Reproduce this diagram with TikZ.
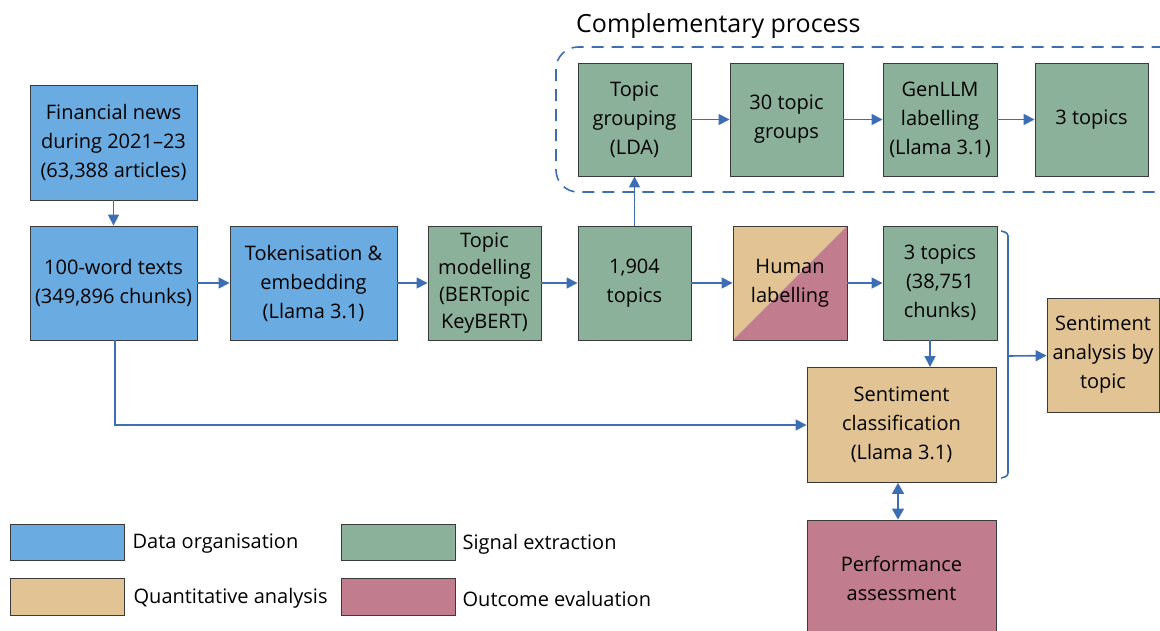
\documentclass[tikz,border=0pt]{standalone}
\usepackage{fontspec}
\setmainfont{Open Sans}
\usetikzlibrary{arrows.meta}

\definecolor{cblue}{HTML}{6AACE2}
\definecolor{cgreen}{HTML}{8BB19A}
\definecolor{ctan}{HTML}{E2C393}
\definecolor{cpink}{HTML}{C17D8E}
\definecolor{flowblue}{HTML}{3D6EB4}
\definecolor{edge}{HTML}{3A3A3A}

\begin{document}
\begin{tikzpicture}[x=1pt,y=-1pt,
  box/.style={draw=edge, line width=0.9pt, align=center, inner sep=0pt,
    text=black, font=\fontsize{20}{29}\selectfont},
  dataorg/.style={box, fill=cblue},
  signal/.style={box, fill=cgreen},
  quant/.style={box, fill=ctan},
  outcome/.style={box, fill=cpink},
  flow/.style={draw=flowblue, line width=1.6pt,
    -{Triangle[length=11pt,width=11pt]}},
  twoway/.style={draw=flowblue, line width=1.6pt,
    {Triangle[length=11pt,width=12pt]}-{Triangle[length=11pt,width=12pt]}},
  legendtext/.style={anchor=west, inner sep=0pt, font=\fontsize{20}{24}\selectfont}]

\useasboundingbox (0,0) rectangle (1160,630);

% complementary process frame (runs past the right edge)
\begin{scope}
  \clip (0,0) rectangle (1160,630);
  \draw[flowblue, line width=1.6pt, dash pattern=on 12pt off 8pt, rounded corners=22pt]
    (556,47) rectangle (1190,192);
  \node[anchor=west, inner sep=0pt, font=\fontsize{25}{30}\selectfont] (title) at (576,26) {Complementary process};
\end{scope}

% main pipeline
\node[dataorg, minimum width=167, minimum height=115] (news) at (113.5,142.5)
  {Financial news\\during 2021--23\\(63,388 articles)};
\node[dataorg, minimum width=167, minimum height=114] (words) at (113.5,283)
  {100-word texts\\(349,896 chunks)};
\node[dataorg, minimum width=167, minimum height=114] (token) at (313.5,283)
  {Tokenisation \&\\embedding\\(Llama 3.1)};
\node[signal, minimum width=113, minimum height=114,
  font=\fontsize{20}{27}\selectfont] (model) at (484.5,283)
  {Topic\\modelling\\(BERTopic\\KeyBERT)};
\node[signal, minimum width=113, minimum height=114] (t1904) at (634.5,283)
  {1,904\\topics};
\node[box, minimum width=114, minimum height=114,
  path picture={
    \fill[ctan] (path picture bounding box.north west) -- (path picture bounding box.north east)
      -- (path picture bounding box.south west) -- cycle;
    \fill[cpink] (path picture bounding box.north east) -- (path picture bounding box.south east)
      -- (path picture bounding box.south west) -- cycle;}] (human) at (790,283)
  {Human\\labelling};
\node[signal, minimum width=114, minimum height=114] (t3c) at (940,283)
  {3 topics\\(38,751\\chunks)};

% complementary branch
\node[signal, minimum width=113, minimum height=113] (group) at (634.5,119.5)
  {Topic\\grouping\\(LDA)};
\node[signal, minimum width=113, minimum height=113] (g30) at (786.5,119.5)
  {30 topic\\groups};
\node[signal, minimum width=114, minimum height=113] (gen) at (940,119.5)
  {GenLLM\\labelling\\(Llama 3.1)};
\node[signal, minimum width=113, minimum height=113] (t3) at (1091.5,119.5)
  {3 topics};

% analysis
\node[quant, minimum width=189, minimum height=115] (sent) at (901.5,425)
  {Sentiment\\classification\\(Llama 3.1)};
\node[quant, minimum width=112, minimum height=114] (bytopic) at (1103,355)
  {Sentiment\\analysis by\\topic};
\begin{scope}
  \clip (0,0) rectangle (1160,630);
  \node[outcome, minimum width=189, minimum height=116] (perf) at (901.5,578)
    {Performance\\assessment};
\end{scope}

% connectors
\draw[flow] (news) -- (words);
\draw[flow] (words) -- (token);
\draw[flow] (token) -- (model);
\draw[flow] (model) -- (t1904);
\draw[flow] (t1904) -- (human);
\draw[flow] (human) -- (t3c);
\draw[flow] (t1904) -- (group);
\draw[flow] (group) -- (g30);
\draw[flow] (g30) -- (gen);
\draw[flow] (gen) -- (t3);
\draw[flow] (t3c.south -| 930,0) -- (sent.north -| 930,0);
\draw[flow] (words.south -| 115,0) |- (sent.west);
\draw[twoway] (sent.south -| 898,0) -- (perf.north -| 898,0);

% bracket gathering topics and sentiment
\coordinate (brtip) at (1008,356);
\draw[flowblue, line width=1.6pt, rounded corners=3pt]
  (1001,231) -- (1008,233) -- (1008,476) -- (1001,478);
\draw[flow] (brtip) -- (bytopic);

% legend
\node[dataorg, minimum width=114, minimum height=36] (lg1) at (67,542) {};
\node[legendtext] at ([xshift=8pt,yshift=-2pt]lg1.east) {Data organisation};
\node[signal, minimum width=114, minimum height=36] (lg2) at (398,542) {};
\node[legendtext] at ([xshift=7pt,yshift=-2pt]lg2.east) {Signal extraction};
\node[quant, minimum width=114, minimum height=37] (lg3) at (67,596.5) {};
\node[legendtext] at ([xshift=9pt,yshift=-2pt]lg3.east) {Quantitative analysis};
\node[outcome, minimum width=114, minimum height=37] (lg4) at (398,596.5) {};
\node[legendtext] at ([xshift=7pt,yshift=-2pt]lg4.east) {Outcome evaluation};

\end{tikzpicture}
\end{document}
